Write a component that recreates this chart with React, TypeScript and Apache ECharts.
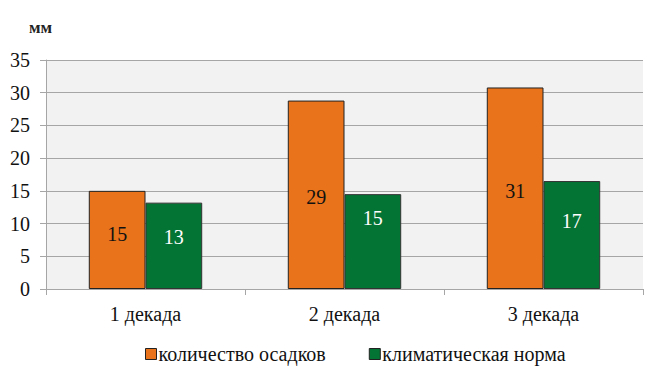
import React, { useEffect, useRef } from "react";
import * as echarts from "echarts";

const categories = ["1 декада", "2 декада", "3 декада"];
const precipitation = [15, 28.8, 30.8];
const climateNorm = [13.2, 14.5, 16.5];
const seriesNames = ["количество осадков", "климатическая норма"];
const yTicks = { min: 0, max: 35, interval: 5 };

// label vertical nudges (style only)
const precipLabelShift = [-6, 2, 3];
const normLabelShift = [-9, -24, -14];

const FONT = "Liberation Serif, Times New Roman, serif";

export default function App() {
  const ref = useRef<HTMLDivElement>(null);
  useEffect(() => {
    if (!ref.current) return;
    const chart = echarts.init(ref.current, null, { renderer: "svg" });
    const labelBase = {
      show: true,
      position: "inside",
      fontFamily: FONT,
      fontSize: 20,
      formatter: (p: any) => String(Math.round(p.value)),
    };
    chart.setOption({
      animation: false,
      textStyle: { fontFamily: FONT },
      grid: {
        left: 46,
        right: 6,
        top: 60,
        bottom: 91,
        show: true,
        backgroundColor: "#f2f2f2",
        borderWidth: 0,
      },
      graphic: [
        {
          type: "text",
          left: 29,
          top: 19,
          style: { text: "мм", fontFamily: FONT, fontSize: 17, fontWeight: "bold", fill: "#222" },
        },
      ],
      legend: {
        top: 339,
        left: 140,
        itemGap: 43,
        itemWidth: 11,
        itemHeight: 11,
        icon: "rect",
        textStyle: { fontFamily: FONT, fontSize: 20, color: "#111", padding: [0, 0, 0, -3] },
        data: seriesNames.map((n) => ({ name: n, itemStyle: { borderColor: "#222", borderWidth: 1 } })),
      },
      xAxis: {
        type: "category",
        data: categories,
        axisLine: { lineStyle: { color: "#a6a6a6" } },
        axisTick: { show: true, length: 6, lineStyle: { color: "#a6a6a6" } },
        axisLabel: { fontFamily: FONT, fontSize: 20, color: "#111", margin: 15 },
      },
      yAxis: {
        type: "value",
        min: yTicks.min,
        max: yTicks.max,
        interval: yTicks.interval,
        axisLine: { show: true, lineStyle: { color: "#a6a6a6" } },
        axisTick: { show: true, length: 6, lineStyle: { color: "#a6a6a6" } },
        splitLine: { lineStyle: { color: "#a6a6a6" } },
        axisLabel: { fontFamily: FONT, fontSize: 20, color: "#111", margin: 16 },
      },
      series: [
        {
          name: seriesNames[0],
          type: "bar",
          data: precipitation.map((v, i) => ({
            value: v,
            label: { offset: [0, precipLabelShift[i]] },
          })),
          barGap: "0%",
          barCategoryGap: "43%",
          itemStyle: { color: "#e8731a", borderColor: "#222", borderWidth: 1 },
          label: { ...labelBase, color: "#111" },
        },
        {
          name: seriesNames[1],
          type: "bar",
          data: climateNorm.map((v, i) => ({
            value: v,
            label: { offset: [0, normLabelShift[i]] },
          })),
          itemStyle: { color: "#047435", borderColor: "#333", borderWidth: 1 },
          label: { ...labelBase, color: "#fff" },
        },
      ],
    });
    return () => chart.dispose();
  }, []);
  return <div ref={ref} style={{ width: 649, height: 380, position: "absolute", left: 0, top: 0 }} />;
}
